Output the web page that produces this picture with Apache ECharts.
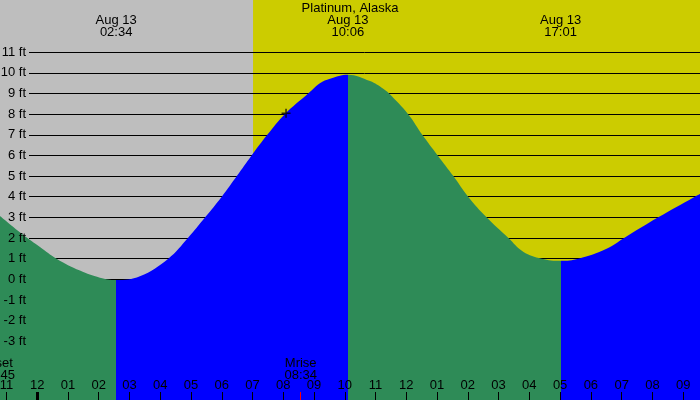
<!DOCTYPE html>
<html><head><meta charset="utf-8">
<script src="https://cdn.jsdelivr.net/npm/echarts@6/dist/echarts.min.js"></script>
<style>html,body{margin:0;padding:0;background:#BEBEBE;}#c{width:700px;height:400px;}</style>
</head><body><div id="c"></div>
<script>
// ---- data (hours after midnight Aug 13, local time) ----
const tideHours = [-1.2094, -0.45, 0.09, 0.63, 1.39, 2.04, 2.567, 3.34, 4.26, 4.9, 5.46, 6.0, 6.49, 6.97, 7.48, 8.05, 8.81, 9.19, 9.52, 10.1, 10.82, 11.25, 11.44, 12.06, 12.52, 13.02, 13.53, 14.01, 14.61, 15.32, 15.8, 16.4, 17.017, 17.6, 18.51, 19.08, 20.19, 21.38, 21.548];
const tideFeet  = [3.07, 2.15, 1.57, 1.0, 0.42, 0.08, -0.03, 0.15, 1.0, 2.0, 3.0, 4.0, 5.0, 6.0, 7.0, 8.0, 9.0, 9.5, 9.72, 9.91, 9.6, 9.23, 9.0, 8.0, 7.0, 6.0, 5.0, 4.0, 3.0, 2.0, 1.34, 1.0, 0.9, 1.0, 1.48, 2.0, 3.0, 4.0, 4.13];
const extremeHours  = [2.567, 10.1, 17.017];
const extremeLabels = ['Aug 13\n02:34', 'Aug 13\n10:06', 'Aug 13\n17:01'];
const hourTicks  = [-1,0,1,2,3,4,5,6,7,8,9,10,11,12,13,14,15,16,17,18,19,20,21];
const hourLabels = ['11','12','01','02','03','04','05','06','07','08','09','10','11','12','01','02','03','04','05','06','07','08','09'];
const midnightHours = [0];
const feetTicks = [-3,-2,-1,0,1,2,3,4,5,6,7,8,9,10,11];
const sunriseHour = 7.017;
const moonEventHours  = [-1.25, 8.567];
const moonEventLabels = ['Mset\n22:45', 'Mrise\n08:34'];
const moonriseTick = [8.567];
const markerPoint = [[8.09, 8.04]];
const titleText = 'Platinum, Alaska';

// ---- scale / style ----
const X_MIN = -1.2094, X_MAX = 21.548;
const Y_MIN = -5.848, Y_MAX = 13.53;
const GREY = '#BEBEBE', YELLOW = '#CCCC00', BLUE = '#0000FF', GREEN = '#2E8B57';
const FONT = 'Liberation Sans, Arial, sans-serif';
const H = 400;
const g1Top = H * (Y_MAX - 11) / (Y_MAX - Y_MIN);
const g1Bottom = H * (-5 - Y_MIN) / (Y_MAX - Y_MIN);

const chart = echarts.init(document.getElementById('c'), null, {renderer: 'canvas'});
const labelStyle = {color: '#000', fontSize: 13, fontFamily: FONT};
function hourFmt(v) { const i = hourTicks.indexOf(Math.round(v)); return i >= 0 ? hourLabels[i] : ''; }

chart.setOption({
  animation: false,
  backgroundColor: GREY,
  grid: [
    {left: 0, right: 0, top: 0, bottom: 0, containLabel: false, outerBoundsMode: 'none'},
    {left: 29, right: 0, top: g1Top, bottom: g1Bottom, containLabel: false, outerBoundsMode: 'none'}
  ],
  xAxis: [
    {type: 'value', gridIndex: 0, min: X_MIN, max: X_MAX, position: 'bottom', z: 3,
     axisLine: {show: false, onZero: false}, splitLine: {show: false},
     axisTick: {show: true, inside: true, length: 8, customValues: hourTicks, lineStyle: {color: '#000', width: 1}},
     axisLabel: Object.assign({inside: true, margin: 8, customValues: hourTicks, formatter: hourFmt, hideOverlap: false}, labelStyle)},
    {type: 'value', gridIndex: 0, min: X_MIN, max: X_MAX, position: 'bottom', z: 3,
     axisLine: {show: false, onZero: false}, splitLine: {show: false},
     axisTick: {show: true, inside: true, length: 8, customValues: midnightHours, lineStyle: {color: '#000', width: 3}},
     axisLabel: {show: false}},
    {type: 'value', gridIndex: 0, min: X_MIN, max: X_MAX, position: 'bottom', z: 3,
     axisLine: {show: false, onZero: false}, splitLine: {show: false},
     axisTick: {show: true, inside: true, length: 8, customValues: moonriseTick, lineStyle: {color: '#FF0000', width: 1}},
     axisLabel: {show: false}},
    {type: 'value', gridIndex: 1, show: false, min: X_MIN, max: X_MAX,
     axisLine: {onZero: false}}
  ],
  yAxis: [
    {type: 'value', gridIndex: 0, min: Y_MIN, max: Y_MAX, z: 3,
     axisLine: {show: false, onZero: false}, axisTick: {show: false}, splitLine: {show: false},
     axisLabel: Object.assign({inside: true, margin: 26, align: 'right', customValues: feetTicks, formatter: '{value} ft'}, labelStyle)},
    {type: 'value', gridIndex: 1, min: -5, max: 11, interval: 1, z: 1.5,
     axisLine: {show: false, onZero: false}, axisTick: {show: false}, axisLabel: {show: false},
     splitLine: {show: true, lineStyle: {color: '#000', width: 1}}}
  ],
  visualMap: {
    type: 'piecewise', show: false, dimension: 0, seriesIndex: 0,
    pieces: [
      {lt: extremeHours[0], color: GREEN},
      {gte: extremeHours[0], lt: extremeHours[1], color: BLUE},
      {gte: extremeHours[1], lt: extremeHours[2], color: GREEN},
      {gte: extremeHours[2], color: BLUE}
    ]
  },
  series: [
    {type: 'line', xAxisIndex: 0, yAxisIndex: 0, z: 2, smooth: 0.4, showSymbol: false, silent: true,
     data: tideHours.map((h, i) => [h, tideFeet[i]]),
     lineStyle: {width: 0},
     areaStyle: {opacity: 1, origin: 'start'},
     markArea: {silent: true, z: 1, itemStyle: {color: YELLOW},
       data: [[{xAxis: sunriseHour}, {xAxis: X_MAX}]]}},
    {type: 'scatter', xAxisIndex: 0, yAxisIndex: 0, z: 4, silent: true,
     symbol: 'path://M3.75,0H5.25V9H3.75ZM0,3.75H9V5.25H0Z', symbolSize: 9,
     itemStyle: {color: '#000'},
     data: markerPoint}
  ]
});

const px = h => chart.convertToPixel({xAxisIndex: 0}, h);
const graphics = [];
graphics.push({type: 'text', z: 10, x: 350, y: 8,
  style: {text: titleText, textAlign: 'center', textVerticalAlign: 'middle', font: '13px ' + FONT, fill: '#000'}});
extremeHours.forEach((h, i) => graphics.push({type: 'text', z: 10, x: px(h), y: 14.5,
  style: {text: extremeLabels[i], textAlign: 'center', textVerticalAlign: 'top', lineHeight: 12, font: '13px ' + FONT, fill: '#000'}}));
moonEventHours.forEach((h, i) => graphics.push({type: 'text', z: 10, x: px(h), y: 357,
  style: {text: moonEventLabels[i], textAlign: 'center', textVerticalAlign: 'top', lineHeight: 12, font: '13px ' + FONT, fill: '#000'}}));
chart.setOption({graphic: graphics});
</script></body></html>
